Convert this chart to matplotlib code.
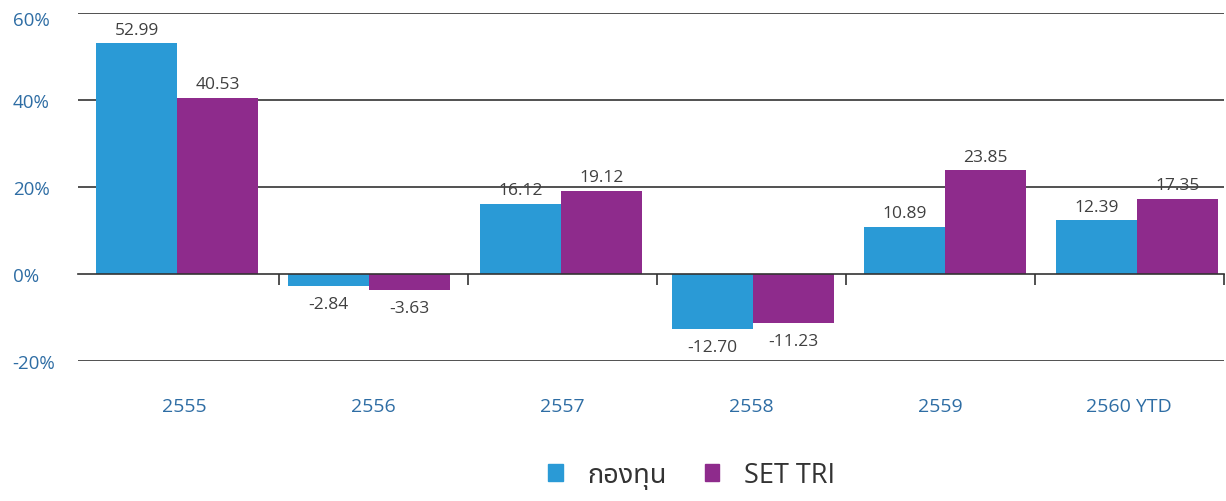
import matplotlib
matplotlib.use("Agg")
import matplotlib.pyplot as plt
from matplotlib.patches import Patch
from matplotlib.transforms import ScaledTranslation
import numpy as np

categories = ["2555", "2556", "2557", "2558", "2559", "2560 YTD"]
fund = [52.99, -2.84, 16.12, -12.70, 10.89, 12.39]
set_tri = [40.53, -3.63, 19.12, -11.23, 23.85, 17.35]
series_names = ["กองทุน", "SET TRI"]
yticks = [-20, 0, 20, 40, 60]

BLUE = "#2a9ad6"
PURPLE = "#8e2b8c"
TICKBLUE = "#2e6da4"
TXT = "#404040"

fams = ["Open Sans", "Noto Sans Thai", "Tlwg Typo", "Loma", "Garuda", "Norasi", "DejaVu Sans"]
plt.rcParams["font.family"] = fams

fig = plt.figure(figsize=(12.26, 5.02), dpi=100)
ax = fig.add_axes([78 / 1226, 1 - 362 / 502, (1224 - 78) / 1226, (362 - 14) / 502])

n = len(categories)
x = np.arange(n)
w = 0.42
b1 = ax.bar(x - w / 2, fund, w, color=BLUE, zorder=3)
b2 = ax.bar(x + w / 2, set_tri, w, color=PURPLE, zorder=3)

for bars, vals in ((b1, fund), (b2, set_tri)):
    for rect, v in zip(bars, vals):
        cx = rect.get_x() + rect.get_width() / 2
        if v >= 0:
            ax.annotate(f"{v:.2f}", (cx, v), xytext=(0, 4), textcoords="offset points",
                        ha="center", va="bottom", fontsize=12.5, color=TXT, zorder=5)
        else:
            ax.annotate(f"{v:.2f}", (cx, v), xytext=(0, -7), textcoords="offset points",
                        ha="center", va="top", fontsize=12.5, color=TXT, zorder=5)

ax.set_ylim(-20, 60)
ax.set_xlim(-0.516, 5.453)
for yv in yticks:
    if yv != 0:
        ax.axhline(yv, color="#333333", lw=1.2, zorder=1)
ax.set_yticks(yticks)
ax.set_yticklabels([f"{v}%" for v in yticks], fontsize=13.5, color=TICKBLUE)
ax.tick_params(axis="y", length=0, pad=47)
for lab in ax.get_yticklabels():
    lab.set_horizontalalignment("left")
top_lab = ax.get_yticklabels()[-1]
top_lab.set_transform(top_lab.get_transform() + ScaledTranslation(0, -5 / 100, fig.dpi_scale_trans))

for s in ["top", "right", "left"]:
    ax.spines[s].set_visible(False)
ax.spines["bottom"].set_position(("data", 0))
ax.spines["bottom"].set_color("#333333")
ax.spines["bottom"].set_linewidth(1.2)
ax.spines["bottom"].set_zorder(4)

step = 0.984
bounds = 0.531 + step * np.arange(n)
ax.set_xticks(bounds)
ax.set_xticklabels([])
ax.tick_params(axis="x", length=8, width=1.2, color="#333333", direction="out")

sec = ax.secondary_xaxis("bottom")
sec.set_xticks(bounds - step / 2)
sec.set_xticklabels(categories, fontsize=14, color=TICKBLUE)
sec.tick_params(length=0, pad=26)
sec.spines["bottom"].set_visible(False)

handles = [Patch(color=BLUE), Patch(color=PURPLE)]
fig.legend(handles, series_names, loc="center", bbox_to_anchor=(691.5 / 1226, 1 - 476 / 502),
           ncol=2, frameon=False, fontsize=19.5, handlelength=0.55, handleheight=0.55,
           columnspacing=1.4, handletextpad=0.9, labelcolor="#333333")

fig.savefig("out.png", dpi=100)
